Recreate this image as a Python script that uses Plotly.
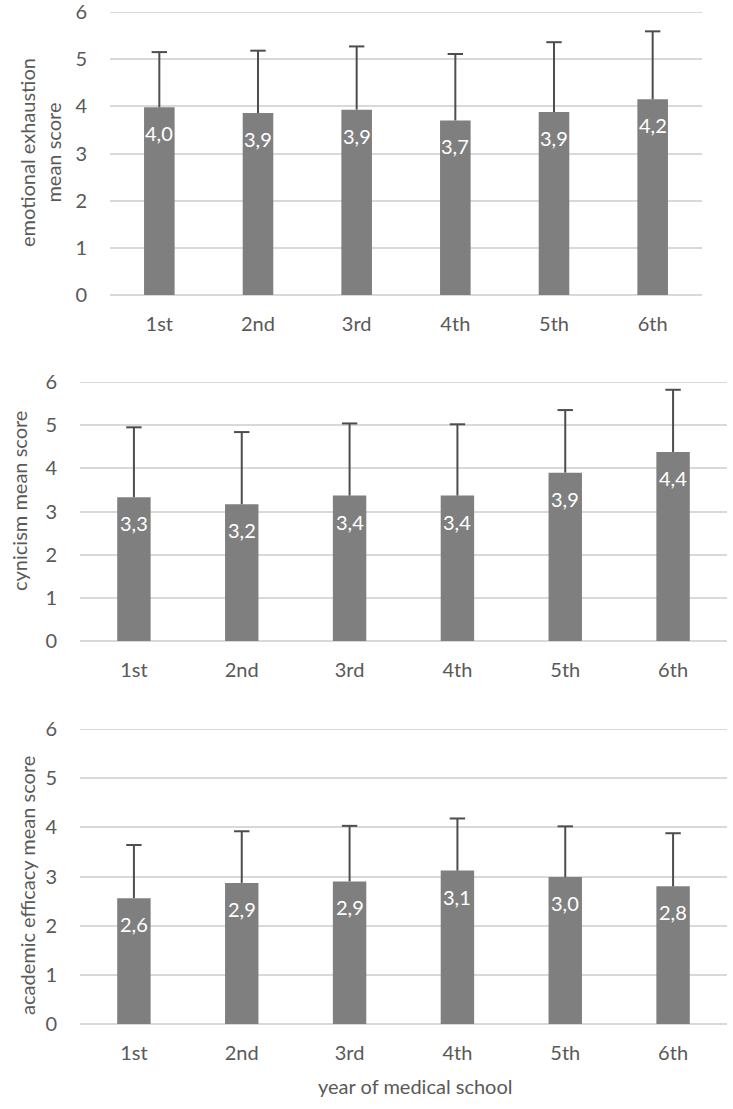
import plotly.graph_objects as go

years = ["1st", "2nd", "3rd", "4th", "5th", "6th"]

ee_mean = [3.98, 3.86, 3.93, 3.70, 3.88, 4.15]
ee_sd = [1.17, 1.32, 1.34, 1.41, 1.48, 1.44]

cy_mean = [3.33, 3.17, 3.37, 3.37, 3.90, 4.38]
cy_sd = [1.62, 1.67, 1.67, 1.65, 1.45, 1.44]

ae_mean = [2.56, 2.87, 2.90, 3.12, 2.99, 2.80]
ae_sd = [1.08, 1.05, 1.13, 1.06, 1.03, 1.08]

y_ticks = [0, 1, 2, 3, 4, 5, 6]
y_titles = ["emotional exhaustion<br>mean score", "cynicism mean score", "academic efficacy mean score"]
x_title = "year of medical school"

W, H = 733, 1109
FONT = "Lato"
TXT = "#595959"
BAR = "#7f7f7f"
ERR = "#4d4d4d"
GRID = "#d9d9d9"
FS = 20

# pixel layout of each panel: (x0, x1, ytop, ybottom)
panels = [(110, 702, 12, 295), (80, 727, 382, 641), (80, 727, 729, 1024)]
title_pos = [(40, 153), (19, 501), (27, 886)]

fig = go.Figure()
data = [(ee_mean, ee_sd), (cy_mean, cy_sd), (ae_mean, ae_sd)]
annotations = []
shapes = []
for i, (m, s) in enumerate(data):
    n = "" if i == 0 else str(i + 1)
    fig.add_trace(go.Bar(
        x=years, y=m,
        xaxis="x" + n, yaxis="y" + n,
        width=0.31,
        marker=dict(color=BAR, line=dict(width=0)),
        error_y=dict(type="data", symmetric=False, array=s, arrayminus=[0] * len(s),
                     color=ERR, thickness=2, width=0),
        showlegend=False, hoverinfo="skip",
    ))
    # caps at the top of the plus-only error bars
    fig.add_trace(go.Scatter(
        x=years, y=[a + b for a, b in zip(m, s)],
        xaxis="x" + n, yaxis="y" + n, mode="markers",
        marker=dict(symbol="line-ew", size=11, line=dict(color=ERR, width=2)),
        showlegend=False, hoverinfo="skip", cliponaxis=False,
    ))
    for c, v in zip(years, m):
        annotations.append(dict(
            x=c, y=v, xref="x" + n, yref="y" + n,
            text=f"{v:.1f}".replace(".", ","), showarrow=False,
            yanchor="middle", xanchor="center", yshift=-26,
            font=dict(color="white", size=FS, family=FONT),
        ))
    # top gridline (ensures the line at the maximum tick is drawn)
    shapes.append(dict(
        type="line", xref=("x" + n) + " domain", yref="y" + n,
        x0=0, x1=1, y0=y_ticks[-1], y1=y_ticks[-1],
        line=dict(color=GRID, width=2), layer="below",
    ))

layout = dict(
    width=W, height=H,
    margin=dict(l=0, r=0, t=0, b=0),
    paper_bgcolor="white", plot_bgcolor="white",
    font=dict(family=FONT, color=TXT, size=FS),
)
for i, (x0, x1, yt, yb) in enumerate(panels):
    n = "" if i == 0 else str(i + 1)
    layout["xaxis" + n] = dict(
        domain=[x0 / W, x1 / W], anchor="y" + n, automargin=False,
        showgrid=False, showline=False, zeroline=False,
        ticks="outside", ticklen=11, tickcolor="rgba(0,0,0,0)",
        tickfont=dict(size=FS, color=TXT, family=FONT),
    )
    layout["yaxis" + n] = dict(
        domain=[1 - yb / H, 1 - yt / H], anchor="x" + n, automargin=False,
        range=[y_ticks[0], y_ticks[-1]], tickvals=y_ticks, ticklabeloverflow="allow",
        showgrid=True, gridcolor=GRID, gridwidth=2,
        zeroline=True, zerolinecolor=GRID, zerolinewidth=2,
        showline=False,
        ticks="outside", ticklen=18, tickcolor="rgba(0,0,0,0)",
        tickfont=dict(size=FS, color=TXT, family=FONT),
    )
    tx, ty = title_pos[i]
    annotations.append(dict(
        text=y_titles[i], x=tx / W, y=1 - ty / H, xref="paper", yref="paper",
        xanchor="center", yanchor="middle", textangle=-90, showarrow=False,
        font=dict(size=FS, color=TXT, family=FONT),
    ))

annotations.append(dict(
    text=x_title, x=415 / W, y=1 - 1086 / H, xref="paper", yref="paper",
    xanchor="center", yanchor="middle", showarrow=False,
    font=dict(size=FS, color=TXT, family=FONT),
))
layout["annotations"] = annotations
layout["shapes"] = shapes

fig.update_layout(**layout)
fig.write_html("out.html", config={"displayModeBar": False},
               post_script="document.body.style.margin='0';")
